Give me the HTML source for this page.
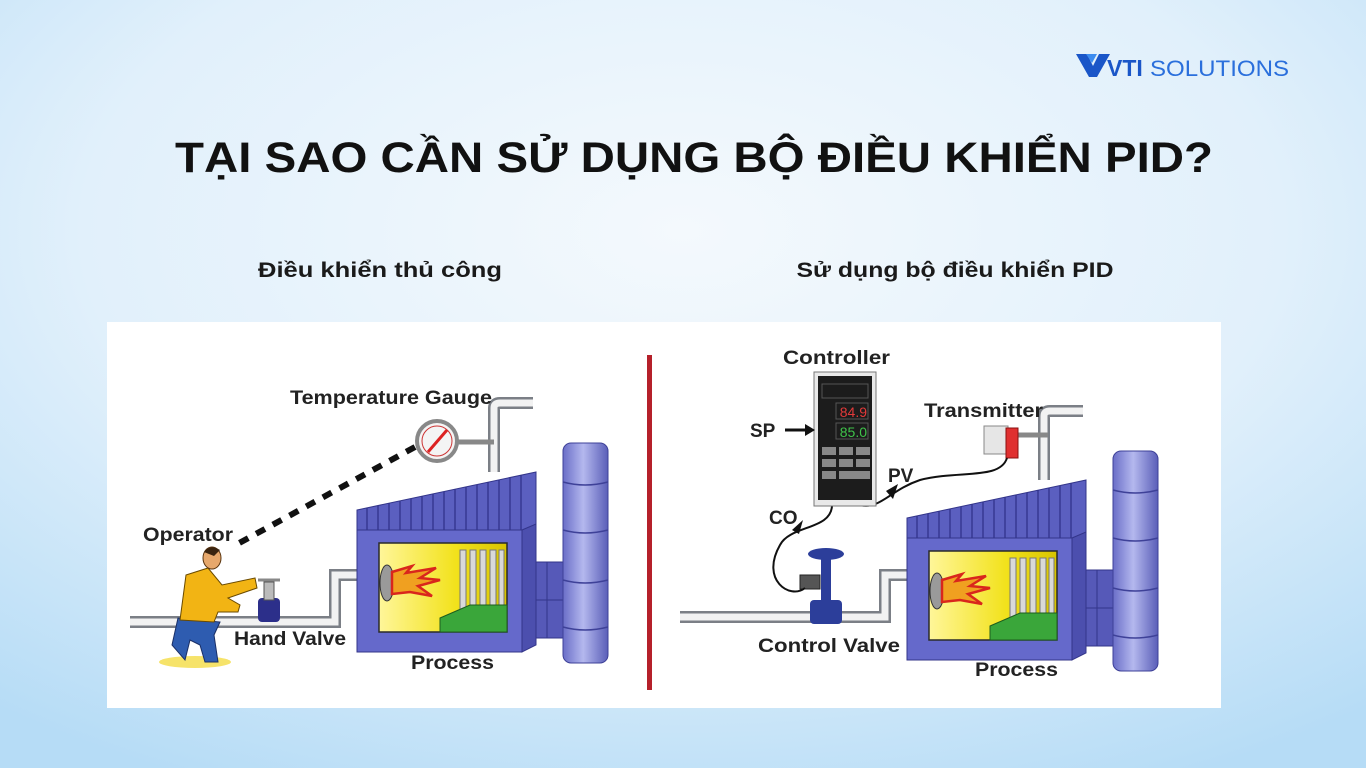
<!DOCTYPE html>
<html><head><meta charset="utf-8"><style>
html,body{margin:0;padding:0;width:1366px;height:768px;overflow:hidden}
svg{display:block}
text{font-family:"Liberation Sans",Arial,sans-serif}
</style></head><body>
<svg width="1366" height="768" viewBox="0 0 1366 768" xmlns="http://www.w3.org/2000/svg">
<defs>
<radialGradient id="bg" cx="0.5" cy="0.3" r="0.8">
<stop offset="0" stop-color="#f4f9fd"/><stop offset="0.55" stop-color="#e1f0fb"/><stop offset="1" stop-color="#b6dcf6"/>
</radialGradient>
<linearGradient id="win" x1="0" x2="1"><stop offset="0" stop-color="#fff69a"/><stop offset="0.6" stop-color="#f2e21c"/><stop offset="1" stop-color="#d8c400"/></linearGradient>
<linearGradient id="stk" x1="0" x2="1"><stop offset="0" stop-color="#6a6ec8"/><stop offset="0.45" stop-color="#b4b8ee"/><stop offset="1" stop-color="#5a5eb8"/></linearGradient>
<g id="furn">
  <path d="M494,472 V408 Q494,403 500,403 H533" fill="none" stroke="#7b7f86" stroke-width="12"/>
  <path d="M494,472 V408 Q494,403 500,403 H533" fill="none" stroke="#f2f2f2" stroke-width="7"/>
  <rect x="530" y="562" width="34" height="76" fill="#5659b8" stroke="#33358a"/>
  <line x1="547" y1="562" x2="547" y2="638" stroke="#33358a"/>
  <line x1="530" y1="600" x2="564" y2="600" stroke="#33358a"/>
  <rect x="563" y="443" width="45" height="220" rx="8" fill="url(#stk)" stroke="#3e4198"/>
  <path d="M563,482 Q585,488 608,482 M563,530 Q585,536 608,530 M563,580 Q585,586 608,580 M563,627 Q585,633 608,627" fill="none" stroke="#3e4198" stroke-width="1.5"/>
  <polygon points="357,510 536,472 536,530 357,530" fill="#5b5fc0" stroke="#33358a"/>
  <g stroke="#2e3088" stroke-width="1.2">
   <line x1="367" y1="508" x2="367" y2="530"/><line x1="378" y1="506" x2="378" y2="530"/><line x1="389" y1="503" x2="389" y2="530"/><line x1="400" y1="501" x2="400" y2="530"/><line x1="411" y1="499" x2="411" y2="530"/><line x1="422" y1="496" x2="422" y2="530"/><line x1="433" y1="494" x2="433" y2="530"/><line x1="444" y1="492" x2="444" y2="530"/><line x1="455" y1="489" x2="455" y2="530"/><line x1="466" y1="487" x2="466" y2="530"/><line x1="477" y1="485" x2="477" y2="530"/><line x1="488" y1="482" x2="488" y2="530"/><line x1="499" y1="480" x2="499" y2="530"/><line x1="510" y1="478" x2="510" y2="530"/><line x1="521" y1="475" x2="521" y2="530"/>
  </g>
  <rect x="357" y="530" width="165" height="122" fill="#6569cb" stroke="#33358a"/>
  <polygon points="522,530 536,524 536,645 522,652" fill="#4c4fae" stroke="#33358a"/>
  <rect x="379" y="543" width="128" height="89" fill="url(#win)" stroke="#2a2a2a" stroke-width="1.5"/>
  <g fill="#d9d9d9" stroke="#777">
   <rect x="460" y="550" width="6" height="72"/><rect x="470" y="550" width="6" height="70"/><rect x="480" y="550" width="6" height="68"/><rect x="490" y="550" width="6" height="66"/><rect x="499" y="550" width="5" height="64"/>
  </g>
  <polygon points="440,632 440,618 470,605 507,605 507,632" fill="#3aa63a" stroke="#1d5d1d"/>
  <ellipse cx="387" cy="583" rx="7" ry="18" fill="#9a9a9a" stroke="#333"/>
  <path d="M392,572 L412,566 L406,573 L436,568 L420,578 L440,580 L418,586 L432,596 L410,592 L392,594 Z" fill="#f0a020" stroke="#d9261c" stroke-width="2.5"/>
</g>
</defs>
<rect width="1366" height="768" fill="url(#bg)"/>

<polygon points="1076,54 1087,54 1093,66 1099,54 1110,54 1097,77 1089,77" fill="#1a56c8"/>
<polygon points="1086,54 1097,54 1092,63" fill="#3c8cf0"/>
<text x="1107" y="76" font-size="23" font-weight="bold" fill="#1a56c8">VTI</text>
<text x="1150" y="76" font-size="22" fill="#2a6fdc" textLength="139" lengthAdjust="spacingAndGlyphs">SOLUTIONS</text>

<text x="694" y="172" text-anchor="middle" font-size="43" font-weight="bold" fill="#111" textLength="1038" lengthAdjust="spacingAndGlyphs">TẠI SAO CẦN SỬ DỤNG BỘ ĐIỀU KHIỂN PID?</text>
<text x="380" y="277" text-anchor="middle" font-size="21" font-weight="bold" fill="#1a1a1a" textLength="244" lengthAdjust="spacingAndGlyphs">Điều khiển thủ công</text>
<text x="955" y="277" text-anchor="middle" font-size="21" font-weight="bold" fill="#1a1a1a" textLength="317" lengthAdjust="spacingAndGlyphs">Sử dụng bộ điều khiển PID</text>

<rect x="107" y="322" width="1114" height="386" fill="#fff"/>
<rect x="647" y="355" width="5" height="335" fill="#b5202a"/>

<!-- LEFT -->
<path d="M130,622 H335 V575 H359" fill="none" stroke="#7b7f86" stroke-width="12"/>
<path d="M130,622 H335 V575 H359" fill="none" stroke="#f2f2f2" stroke-width="7"/>
<use href="#furn"/>
<line x1="455" y1="442" x2="494" y2="442" stroke="#888" stroke-width="5"/>
<circle cx="437" cy="441" r="20" fill="#f4f4f4" stroke="#888" stroke-width="4"/>
<circle cx="437" cy="441" r="15" fill="none" stroke="#c33" stroke-width="1"/>
<line x1="428" y1="452" x2="447" y2="430" stroke="#d22" stroke-width="3"/>
<line x1="415" y1="447" x2="232" y2="547" stroke="#111" stroke-width="6" stroke-dasharray="10,9"/>
<rect x="258" y="598" width="22" height="24" rx="4" fill="#2c2f8a"/>
<rect x="264" y="582" width="10" height="18" fill="#bbb" stroke="#555"/>
<line x1="258" y1="580" x2="280" y2="580" stroke="#888" stroke-width="3"/>
<ellipse cx="195" cy="662" rx="36" ry="6" fill="#f6e36a"/>
<path d="M178,618 L172,645 L185,660 L190,640 L200,645 L205,662 L218,662 L214,635 L220,622 Z" fill="#2e5cb0" stroke="#1a2f66"/>
<path d="M186,575 L208,568 L222,585 L255,578 L257,588 L228,598 L240,605 L238,612 L218,612 L214,622 L180,620 Z" fill="#f2b414" stroke="#6a4a00"/>
<ellipse cx="212" cy="558" rx="9" ry="11" fill="#e7a86c" stroke="#5a3510"/>
<path d="M204,552 Q210,544 220,550 L214,556 Z" fill="#3a2410"/>
<text x="290" y="404" font-size="19" font-weight="bold" fill="#222" textLength="202" lengthAdjust="spacingAndGlyphs">Temperature Gauge</text>
<text x="143" y="541" font-size="19" font-weight="bold" fill="#222" textLength="90" lengthAdjust="spacingAndGlyphs">Operator</text>
<text x="234" y="645" font-size="19" font-weight="bold" fill="#222" textLength="112" lengthAdjust="spacingAndGlyphs">Hand Valve</text>
<text x="411" y="669" font-size="19" font-weight="bold" fill="#222" textLength="83" lengthAdjust="spacingAndGlyphs">Process</text>

<!-- RIGHT -->
<path d="M680,617 H885 V575 H912" fill="none" stroke="#7b7f86" stroke-width="12"/>
<path d="M680,617 H885 V575 H912" fill="none" stroke="#f2f2f2" stroke-width="7"/>
<g transform="translate(550,8)"><use href="#furn"/></g>
<line x1="1018" y1="435" x2="1048" y2="435" stroke="#888" stroke-width="5"/>
<rect x="984" y="426" width="24" height="28" fill="#e6e6e6" stroke="#888"/>
<rect x="1006" y="428" width="12" height="30" fill="#e03030" stroke="#8a1010"/>
<ellipse cx="826" cy="554" rx="18" ry="6" fill="#2c3e9a"/>
<rect x="821" y="558" width="10" height="50" fill="#2c3e9a"/>
<rect x="810" y="600" width="32" height="24" rx="4" fill="#2c3e9a"/>
<rect x="800" y="575" width="20" height="14" fill="#555" stroke="#222"/>
<path d="M832,505 C832,530 790,525 780,545 C760,580 790,600 805,588" fill="none" stroke="#111" stroke-width="2"/>
<polygon points="792,530 803,520 799,534" fill="#111"/>
<path d="M1007,458 C1000,480 960,470 920,480 C890,490 880,510 860,505" fill="none" stroke="#111" stroke-width="2"/>
<polygon points="886,491 898,484 893,499" fill="#111"/>
<rect x="814" y="372" width="62" height="134" fill="#e9e9e9" stroke="#777"/>
<rect x="818" y="376" width="54" height="124" fill="#1c1c1c"/>
<g stroke="#555" fill="none" stroke-width="1"><rect x="822" y="384" width="46" height="14"/><rect x="836" y="403" width="32" height="16"/><rect x="836" y="423" width="32" height="16"/></g>
<text x="867" y="417" text-anchor="end" font-size="14" fill="#e23a3a">84.9</text>
<text x="867" y="437" text-anchor="end" font-size="14" fill="#3fc24a">85.0</text>
<g fill="#888"><rect x="822" y="447" width="14" height="8"/><rect x="839" y="447" width="14" height="8"/><rect x="856" y="447" width="14" height="8"/><rect x="822" y="459" width="14" height="8"/><rect x="839" y="459" width="14" height="8"/><rect x="856" y="459" width="14" height="8"/><rect x="822" y="471" width="14" height="8"/><rect x="839" y="471" width="31" height="8"/></g>
<line x1="785" y1="430" x2="808" y2="430" stroke="#111" stroke-width="3"/>
<polygon points="815,430 805,424 805,436" fill="#111"/>
<text x="783" y="364" font-size="19" font-weight="bold" fill="#222" textLength="107" lengthAdjust="spacingAndGlyphs">Controller</text>
<text x="750" y="437" font-size="19" font-weight="bold" fill="#222">SP</text>
<text x="924" y="417" font-size="19" font-weight="bold" fill="#222" textLength="119" lengthAdjust="spacingAndGlyphs">Transmitter</text>
<text x="888" y="482" font-size="19" font-weight="bold" fill="#222">PV</text>
<text x="769" y="524" font-size="19" font-weight="bold" fill="#222">CO</text>
<text x="758" y="652" font-size="19" font-weight="bold" fill="#222" textLength="142" lengthAdjust="spacingAndGlyphs">Control Valve</text>
<text x="975" y="676" font-size="19" font-weight="bold" fill="#222" textLength="83" lengthAdjust="spacingAndGlyphs">Process</text>
</svg>
</body></html>
